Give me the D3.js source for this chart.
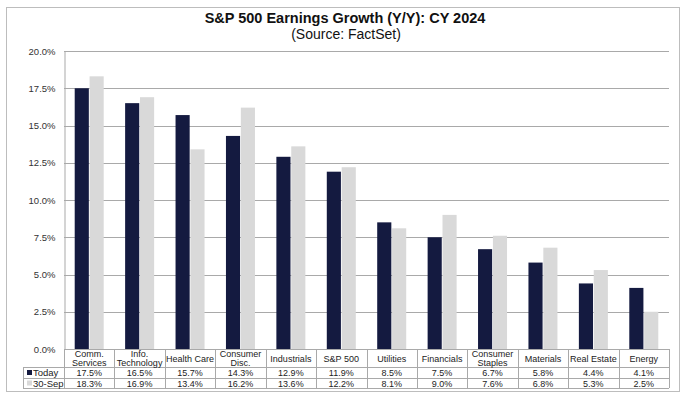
<!DOCTYPE html>
<html lang="en">
<head>
<meta charset="utf-8">
<title>S&P 500 Earnings Growth CY 2024</title>
<script src="https://cdn.jsdelivr.net/npm/d3@7"></script>
<style>
  body { margin: 0; background: #fff; }
  text { font-family: "Liberation Sans", Arial, sans-serif; }
</style>
</head>
<body>
<script>
  var w = 690;
  var h = 398;

  // data
  var categories = [["Comm.", "Services"], ["Info.", "Technology"], ["Health Care"], ["Consumer", "Disc."],
                    ["Industrials"], ["S&P 500"], ["Utilities"], ["Financials"], ["Consumer", "Staples"],
                    ["Materials"], ["Real Estate"], ["Energy"]];
  var seriesNames = ["Today", "30-Sep"];
  var today = [17.5, 16.5, 15.7, 14.3, 12.9, 11.9, 8.5, 7.5, 6.7, 5.8, 4.4, 4.1];
  var sep30 = [18.3, 16.9, 13.4, 16.2, 13.6, 12.2, 8.1, 9.0, 7.6, 6.8, 5.3, 2.5];
  var yTicks = [0, 2.5, 5, 7.5, 10, 12.5, 15, 17.5, 20];

  var colors = { "Today": "#141a40", "30-Sep": "#d9d9d9" };
  var gridColor = "#a9a9a9";

  // plot box (window.top is reserved, so plot_* names)
  var plot_left = 64, plot_right = 669, plot_top = 51, plot_bottom = 349;
  var rowH = [18, 11, 10];  // header, today, 30-sep
  var legendLeft = 23;

  var svg = d3.select("body").append("svg")
              .attr("width", w)
              .attr("height", h);

  // outer frame
  svg.append("rect")
     .attr("x", 6.5).attr("y", 7.5)
     .attr("width", 673).attr("height", 384)
     .attr("fill", "white")
     .attr("stroke", "#bdbdbd");

  // title
  svg.append("text")
     .attr("x", 345).attr("y", 23)
     .attr("text-anchor", "middle")
     .attr("font-size", 14.5).attr("font-weight", "bold")
     .attr("fill", "#111")
     .text("S&P 500 Earnings Growth (Y/Y): CY 2024");
  svg.append("text")
     .attr("x", 346).attr("y", 39)
     .attr("text-anchor", "middle")
     .attr("font-size", 14)
     .attr("fill", "#111")
     .text("(Source: FactSet)");

  var idx = d3.range(categories.length);

  var x0 = d3.scaleBand().domain(idx).range([plot_left, plot_right]).padding(0);
  var x1 = d3.scaleBand().domain(seriesNames).range([0, x0.bandwidth()])
             .paddingInner(0.05).paddingOuter(0.72);
  var y = d3.scaleLinear().domain([0, 20]).range([plot_bottom, plot_top]);

  // gridlines
  svg.append("g").selectAll("line")
     .data(yTicks.filter(function(d) { return d > 0; }))
     .enter().append("line")
     .attr("x1", plot_left).attr("x2", plot_right)
     .attr("y1", function(d) { return Math.round(y(d)) + 0.5; })
     .attr("y2", function(d) { return Math.round(y(d)) + 0.5; })
     .attr("stroke", gridColor);

  // y axis
  var yAxis = d3.axisLeft(y).tickValues(yTicks)
                .tickSize(0).tickPadding(9)
                .tickFormat(function(d) { return d.toFixed(1) + "%"; });
  var ya = svg.append("g").attr("transform", "translate(" + (plot_left + 0.5) + ",0)").call(yAxis);
  ya.select(".domain").attr("stroke", gridColor);
  ya.selectAll("text")
    .attr("font-family", "'Liberation Sans', Arial, sans-serif")
    .attr("font-size", 9.5)
    .attr("fill", "#333");

  // bars
  var series = [{ name: "Today", values: today }, { name: "30-Sep", values: sep30 }];
  svg.append("g").selectAll("g")
     .data(series)
     .enter().append("g")
     .attr("fill", function(s) { return colors[s.name]; })
     .selectAll("rect")
     .data(function(s) { return s.values.map(function(v, i) { return { name: s.name, v: v, i: i }; }); })
     .enter().append("rect")
     .attr("x", function(d) { return x0(d.i) + x1(d.name); })
     .attr("width", x1.bandwidth())
     .attr("y", function(d) { return y(d.v); })
     .attr("height", function(d) { return plot_bottom - y(d.v); });

  // data table
  var table = svg.append("g");
  var r1 = plot_bottom + rowH[0], r2 = r1 + rowH[1], r3 = r2 + rowH[2];

  // horizontal lines
  table.append("line").attr("x1", plot_left).attr("x2", plot_right)
       .attr("y1", plot_bottom + 0.5).attr("y2", plot_bottom + 0.5).attr("stroke", gridColor);
  [r1, r2, r3].forEach(function(yy) {
    table.append("line").attr("x1", legendLeft).attr("x2", plot_right)
         .attr("y1", yy + 0.5).attr("y2", yy + 0.5).attr("stroke", gridColor);
  });
  // vertical lines
  table.append("line").attr("x1", legendLeft + 0.5).attr("x2", legendLeft + 0.5)
       .attr("y1", r1).attr("y2", r3).attr("stroke", gridColor);
  table.selectAll("line.v")
       .data(idx.concat([categories.length]))
       .enter().append("line")
       .attr("class", "v")
       .attr("x1", function(i) { return Math.round(i < categories.length ? x0(i) : plot_right) + 0.5; })
       .attr("x2", function(i) { return Math.round(i < categories.length ? x0(i) : plot_right) + 0.5; })
       .attr("y1", plot_bottom).attr("y2", r3)
       .attr("stroke", gridColor);

  // category headers
  var heads = table.selectAll("text.cat")
       .data(idx)
       .enter().append("text")
       .attr("class", "cat")
       .attr("text-anchor", "middle")
       .attr("font-size", 9)
       .attr("fill", "#222")
       .attr("x", function(i) { return x0(i) + x0.bandwidth() / 2; })
       .attr("y", function(i) { return categories[i].length > 1 ? plot_bottom + 8 : plot_bottom + 12.5; });
  heads.each(function(i) {
    var t = d3.select(this);
    categories[i].forEach(function(line, k) {
      t.append("tspan")
       .attr("x", x0(i) + x0.bandwidth() / 2)
       .attr("dy", k === 0 ? 0 : 9)
       .text(line);
    });
  });

  // values rows
  var rowsY = [r1 + 9, r2 + 8.5];
  series.forEach(function(s, k) {
    table.selectAll("text.val" + k)
         .data(s.values)
         .enter().append("text")
         .attr("class", "val" + k)
         .attr("text-anchor", "middle")
         .attr("font-size", 9)
         .attr("fill", "#222")
         .attr("x", function(d, i) { return x0(i) + x0.bandwidth() / 2; })
         .attr("y", rowsY[k])
         .text(function(d) { return d.toFixed(1) + "%"; });

    table.append("rect")
         .attr("x", legendLeft + 4).attr("y", rowsY[k] - 6)
         .attr("width", 5).attr("height", 5)
         .attr("fill", colors[s.name]);
    table.append("text")
         .attr("x", legendLeft + 10).attr("y", rowsY[k])
         .attr("font-size", 9.5)
         .attr("fill", "#222")
         .text(s.name);
  });
</script>
</body>
</html>
